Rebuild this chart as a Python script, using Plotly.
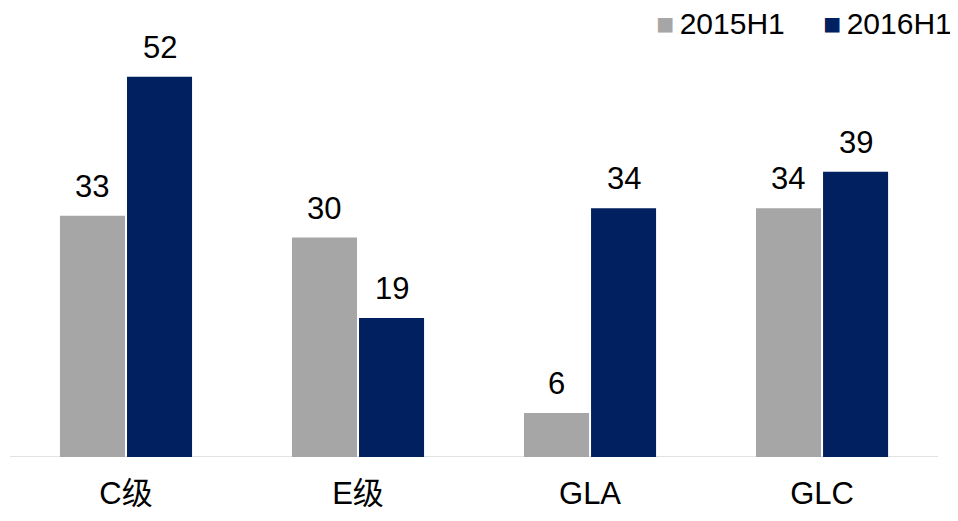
import plotly.graph_objects as go

categories = ["C级", "E级", "GLA", "GLC"]
series_names = ["2015H1", "2016H1"]
values_2015 = [33, 30, 6, 34]
values_2016 = [52, 19, 34, 39]
colors = ["#A6A6A6", "#002060"]

FONT = "Arial, 'Liberation Sans', 'Noto Sans CJK SC', sans-serif"

fig = go.Figure()
series = [values_2015, values_2016]
for name, vals, col in zip(series_names, series, colors):
    fig.add_trace(go.Bar(
        x=categories, y=vals, name=name, marker=dict(color=col, line=dict(width=0)),
        showlegend=False,
    ))

# value labels
offsets = [-34, 34]
for vals, dx in zip(series, offsets):
    for c, v in zip(categories, vals):
        fig.add_annotation(x=c, y=v, text=str(v), showarrow=False, xshift=dx,
                           yanchor="bottom", yshift=10,
                           font=dict(size=31, color="#000000", family=FONT))

# legend (text-based, top right)
legend_x = [0.679, 0.856]
for name, col, lx in zip(series_names, colors, legend_x):
    fig.add_annotation(xref="paper", yref="paper", x=lx, y=0.967,
                       xanchor="left", yanchor="middle", showarrow=False,
                       height=28, valign="middle",
                       text=(f'<span style="color:{col}">■</span>'
                             f'<span style="font-size:20px"> </span>{name}'),
                       font=dict(size=30, color="#000000", family=FONT))

# baseline axis line across the category band
fig.add_shape(type="line", xref="x", yref="y", x0=-0.5, x1=3.5, y0=0, y1=0,
              line=dict(color="#D9D9D9", width=1.5), layer="below")

fig.update_layout(
    barmode="group", bargap=0.422, bargroupgap=0.03,
    width=950, height=513,
    margin=dict(l=2, r=0, t=0, b=64),
    paper_bgcolor="white", plot_bgcolor="white",
    font=dict(family=FONT, size=31, color="#000000"),
    showlegend=False,
)
fig.update_xaxes(range=[-0.5, 3.586], showline=False, ticks="", ticklabelstandoff=15,
                 tickfont=dict(size=31, family=FONT, color="#000000"), showgrid=False)
fig.update_yaxes(range=[0, 61.4], visible=False, showgrid=False)

fig.write_html("out.html")
